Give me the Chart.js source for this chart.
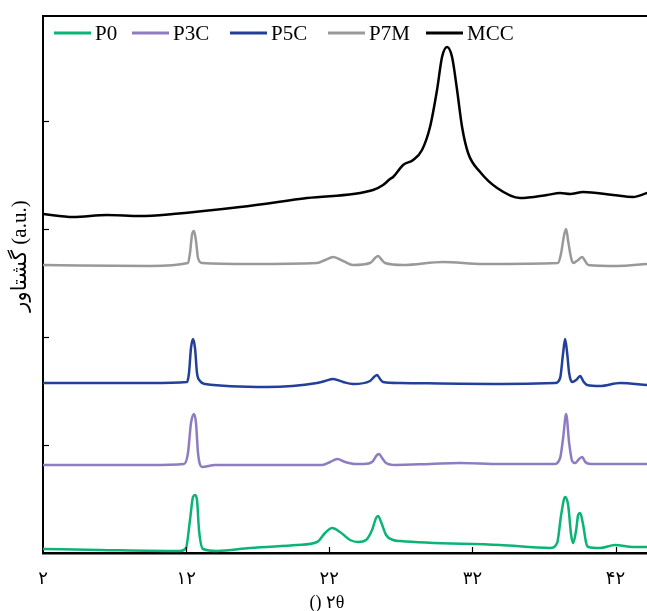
<!DOCTYPE html>
<html>
<head>
<meta charset="utf-8">
<script src="https://cdn.jsdelivr.net/npm/chart.js@4"></script>
<style>
  body { margin: 0; background: #fff; }
  canvas { display: block; }
</style>
</head>
<body>
<canvas id="xrdChart" width="647" height="611"></canvas>
<script>
// 2theta (deg) and intensity (a.u.)
const p0X = [2.00, 5.98, 11.57, 11.99, 12.27, 12.48, 12.62, 12.76, 12.90, 13.18, 14.16, 16.47, 19.75, 21.15, 21.71, 22.20, 22.75, 23.45, 24.01, 24.57, 24.99, 25.27, 25.41, 25.62, 25.97, 26.46, 26.95, 33.94, 37.43, 37.92, 38.20, 38.48, 38.69, 38.90, 39.04, 39.25, 39.39, 39.53, 39.74, 39.95, 40.09, 40.92, 41.97, 43.23, 44.21];
const p0Y = [4, 3, 2, 5, 33, 56, 58, 53, 23, 4, 2, 5, 8, 11, 20, 25, 21, 13, 11, 13, 23, 35, 37, 31, 18, 13, 12, 8, 5, 10, 38, 56, 48, 18, 10, 23, 38, 40, 28, 10, 6, 5, 8, 6, 6];

const p3cX = [2.00, 9.48, 11.85, 12.13, 12.34, 12.55, 12.69, 12.83, 13.11, 14.02, 21.50, 22.06, 22.55, 23.11, 23.80, 24.43, 24.99, 25.34, 25.48, 25.69, 25.97, 26.60, 29.05, 31.07, 33.94, 37.71, 38.13, 38.34, 38.55, 38.76, 38.97, 39.18, 39.46, 39.67, 39.88, 40.29, 44.21];
const p3cY = [88, 88, 89, 100, 130, 139, 130, 100, 86, 88, 88, 91, 94, 91, 89, 89, 91, 98, 99, 95, 90, 88, 89, 90, 89, 89, 95, 115, 139, 110, 92, 90, 94, 96, 91, 89, 89];

const p5cX = [2.00, 9.48, 12.06, 12.20, 12.34, 12.48, 12.62, 12.76, 12.97, 13.32, 17.65, 21.15, 21.71, 22.27, 22.97, 23.66, 24.85, 25.13, 25.34, 25.55, 25.76, 26.95, 33.94, 37.78, 38.13, 38.34, 38.48, 38.62, 38.76, 38.97, 39.25, 39.53, 39.74, 40.02, 40.92, 42.32, 44.21];
const p5cY = [170, 170, 171, 180, 205, 214, 205, 180, 172, 169, 166, 170, 172, 174, 171, 169, 172, 176, 178, 174, 171, 170, 169, 170, 175, 200, 214, 200, 180, 171, 173, 177, 172, 168, 167, 170, 168];

const p7mX = [2.00, 9.48, 12.13, 12.27, 12.41, 12.55, 12.69, 12.83, 13.11, 16.47, 21.15, 21.71, 22.27, 22.97, 23.66, 24.85, 25.20, 25.41, 25.62, 25.90, 27.16, 29.96, 32.75, 37.99, 38.20, 38.41, 38.55, 38.69, 38.90, 39.04, 39.39, 39.67, 39.88, 40.09, 42.11, 44.21];
const p7mY = [288, 287, 290, 300, 318, 322, 312, 295, 290, 289, 290, 293, 296, 292, 288, 290, 295, 297, 294, 290, 288, 291, 289, 290, 300, 318, 324, 312, 295, 290, 293, 296, 292, 288, 287, 289];

const mccX = [2.00, 4.10, 6.47, 8.78, 11.08, 15.77, 20.45, 25.06, 25.76, 26.25, 26.46, 27.16, 27.86, 28.48, 29.04, 29.53, 29.88, 30.23, 30.58, 30.93, 31.28, 31.70, 32.54, 33.73, 35.33, 37.22, 38.13, 38.83, 39.74, 41.83, 43.23, 44.21];
const mccY = [339, 336, 338, 337, 339, 346, 355, 363, 368, 374, 376, 388, 393, 403, 426, 463, 496, 506, 496, 463, 426, 400, 381, 365, 355, 358, 360, 359, 361, 358, 356, 360];

const xTicks = [2, 12, 22, 32, 42];
const xTickLabels = ["۲", "۱۲", "۲۲", "۳۲", "۴۲"];
const yTicks = [108, 216, 324, 432];

const serif = "'Liberation Serif', 'DejaVu Sans', serif";

function pts(xs, ys) {
    return xs.map((x, i) => ({x: x, y: ys[i]}));
}

function series(label, xs, ys, colour) {
    return {
        label: label,
        data: pts(xs, ys),
        borderColor: colour,
        backgroundColor: colour,
        borderWidth: 2.5,
        pointRadius: 0,
        fill: false,
        cubicInterpolationMode: "monotone"
    };
}

// frame top line, inward ticks, axis titles and the legend inside the plot
const framePlugin = {
    id: "frame",
    afterDraw(chart) {
        const ctx = chart.ctx;
        const {left, right, top, bottom} = chart.chartArea;
        const xs = chart.scales.x, ys = chart.scales.y;
        ctx.save();
        ctx.strokeStyle = "#000";
        ctx.lineWidth = 2;
        ctx.beginPath();
        ctx.moveTo(left - 1, top);
        ctx.lineTo(right, top);
        ctx.stroke();

        ctx.lineWidth = 1.2;
        yTicks.forEach(v => {
            const py = Math.round(ys.getPixelForValue(v)) + 0.5;
            ctx.beginPath();
            ctx.moveTo(left, py);
            ctx.lineTo(left + 6, py);
            ctx.stroke();
        });
        xTicks.slice(1).forEach(v => {
            const px = Math.round(xs.getPixelForValue(v)) + 0.5;
            ctx.beginPath();
            ctx.moveTo(px, bottom);
            ctx.lineTo(px, bottom - 6);
            ctx.stroke();
        });

        // axis titles
        ctx.fillStyle = "#000";
        ctx.textAlign = "center";
        ctx.textBaseline = "middle";
        ctx.font = "18px " + serif;
        ctx.fillText("() ۲θ", 327, 603);
        ctx.save();
        ctx.translate(20, 256);
        ctx.rotate(-Math.PI / 2);
        ctx.font = "21px " + serif;
        ctx.fillText("گشتاور (a.u.)", 0, 0);
        ctx.restore();

        // legend
        const legendX = [54, 132, 230, 328, 426];
        ctx.font = "21px " + serif;
        ctx.textAlign = "left";
        const ly = 33;
        chart.data.datasets.forEach((ds, i) => {
            const lx = legendX[i];
            ctx.strokeStyle = ds.borderColor;
            ctx.lineWidth = 3;
            ctx.beginPath();
            ctx.moveTo(lx, ly);
            ctx.lineTo(lx + 37, ly);
            ctx.stroke();
            ctx.fillText(ds.label, lx + 41, ly + 1);
        });
        ctx.restore();
    }
};

new Chart("xrdChart", {
    type: "line",
    data: {
        datasets: [
            series("P0", p0X, p0Y, "#0bb475"),
            series("P3C", p3cX, p3cY, "#8e7cc3"),
            series("P5C", p5cX, p5cY, "#22409a"),
            series("P7M", p7mX, p7mY, "#999999"),
            series("MCC", mccX, mccY, "#000000")
        ]
    },
    options: {
        responsive: false,
        animation: false,
        layout: {padding: {top: 16, right: 0, left: 0, bottom: 0}},
        plugins: {
            legend: {display: false},
            tooltip: {enabled: false}
        },
        scales: {
            x: {
                type: "linear",
                min: 2,
                max: 44.2,
                afterBuildTicks: scale => { scale.ticks = xTicks.map(v => ({value: v})); },
                afterFit: scale => { scale.height = 58; },
                grid: {display: false, drawTicks: false},
                border: {display: true, color: "#000", width: 2.5},
                ticks: {
                    autoSkip: false,
                    maxRotation: 0,
                    padding: 15,
                    color: "#000",
                    font: {family: serif, size: 18},
                    callback: v => xTickLabels[xTicks.indexOf(v)]
                }
            },
            y: {
                type: "linear",
                min: 0,
                max: 537,
                afterFit: scale => { scale.width = 43; },
                grid: {display: false, drawTicks: false},
                border: {display: true, color: "#000", width: 2},
                ticks: {display: false}
            }
        }
    },
    plugins: [framePlugin]
});
</script>
</body>
</html>
